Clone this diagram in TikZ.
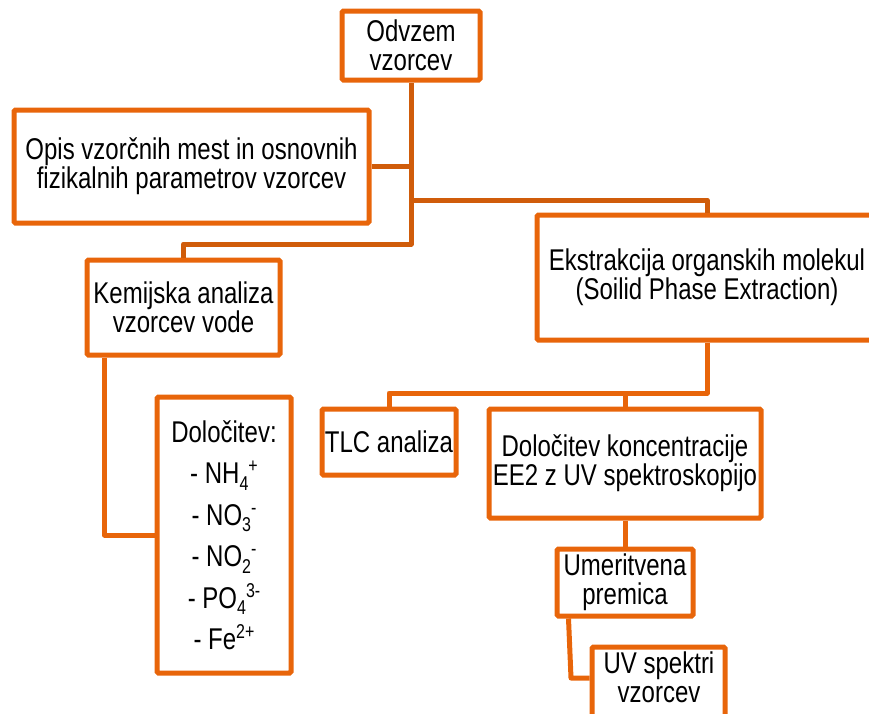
\documentclass[tikz,border=0pt]{standalone}
\usepackage{fontspec}
\setmainfont[FakeStretch=0.8]{Liberation Sans}
\definecolor{boxor}{RGB}{232,101,10}
\definecolor{lineor}{RGB}{208,92,10}
\newcommand\mainfs{\fontsize{30}{29}\selectfont}
\newcommand\sbs[1]{\raisebox{-6.5pt}{\fontsize{20}{20}\selectfont #1}}
\newcommand\sps[1]{\raisebox{11pt}{\fontsize{20}{20}\selectfont #1}}
\tikzset{
  box/.style={draw=boxor, line width=5pt, fill=white, rounded corners=1.5pt,
    align=center, inner sep=0pt, font=\mainfs, text=black},
  conn/.style={draw=lineor, line width=5pt, line join=round},
  conntwo/.style={conn, draw=boxor},
  txt/.style={align=center, inner sep=0pt, font=\mainfs, text=black}
}
\begin{document}
\begin{tikzpicture}[x=1pt, y=-1pt]
\useasboundingbox (0,0) rectangle (869,713);
\clip (0,0) rectangle (869,713);
% nodes
\node[box, minimum width=138pt, minimum height=69pt] (odv) at (411,45.5) {Odvzem\\vzorcev};
\node[box, minimum width=355pt, minimum height=113pt] (opis) at (191.5,166.5) {Opis vzorčnih mest in osnovnih\\fizikalnih parametrov vzorcev};
\node[box, minimum width=193pt, minimum height=95pt] (kem) at (183.5,307.5) {Kemijska analiza\\vzorcev vode};
\node[box, minimum width=134pt, minimum height=276pt, font=\fontsize{30}{41.5}\selectfont] (dol) at (224,535)
  {Določitev:\\- NH\sbs{4}\sps{+}\\- NO\sbs{3}\sps{-}\\- NO\sbs{2}\sps{-}\\- PO\sbs{4}\sps{3-}\\- Fe\sps{2+}};
\node[box, minimum width=340pt, minimum height=125pt] (ekst) at (707,277.5) {Ekstrakcija organskih molekul\\(Soilid Phase Extraction)};
\node[box, minimum width=134pt, minimum height=66pt] (tlc) at (389,442) {TLC analiza};
\node[box, minimum width=272pt, minimum height=109pt] (konc) at (625,463.5) {Določitev koncentracije\\EE2 z UV spektroskopijo};
\node[box, minimum width=136pt, minimum height=67pt] (umer) at (625,582.5) {Umeritvena\\premica};
\node[box, minimum width=133pt, minimum height=80pt] (uv) at (658.5,687) {};
\node[txt] (uvt) at (659,677.5) {UV spektri\\vzorcev};
% connectors
\coordinate (tA) at (411,244);
\coordinate (tB) at (411,200);
\coordinate (eB) at (707,393);
\coordinate (uB) at (571,678);
\draw[conn] (odv.south) -- (tA) -| (kem.north);
\draw[conn] (opis.east) -- (opis.east -| odv.south);
\draw[conn] (tB) -| (ekst.north);
\draw[conntwo] ([xshift=20pt]kem.south west) |- (dol.west);
\draw[conntwo] (ekst.south) -- (eB) -| (tlc.north);
\draw[conntwo] (konc.north) -- (konc.north |- eB);
\draw[conntwo] (konc.south) -- (umer.north);
\draw[conntwo] ([xshift=14pt]umer.south west) -- (uB) -- (uB -| uv.west);
\end{tikzpicture}
\end{document}
